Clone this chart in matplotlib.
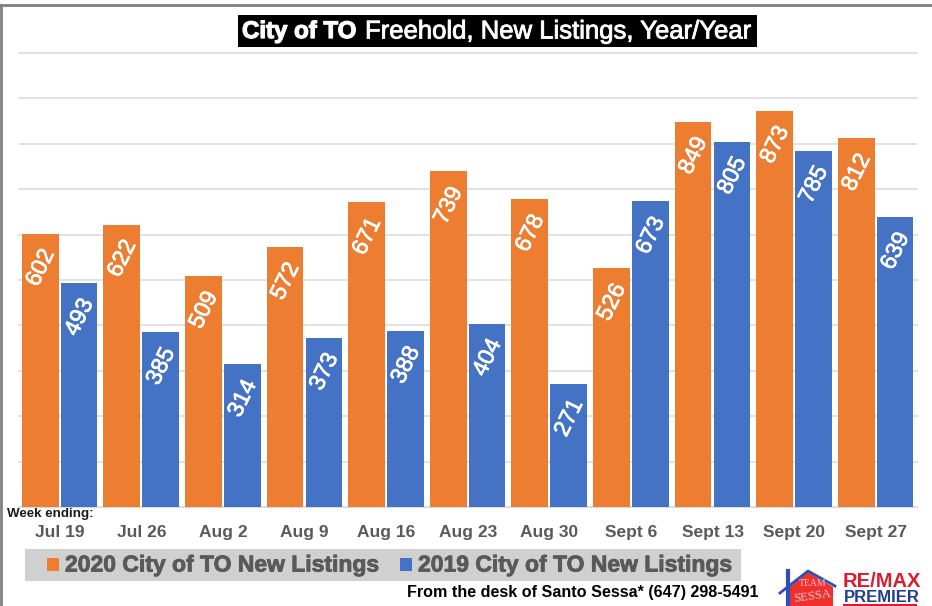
import matplotlib
matplotlib.use('Agg')
import numpy as np
from matplotlib import pyplot as plt
from matplotlib.patches import Polygon, Rectangle
import matplotlib.patheffects as pe

# Datos
semanas = ['Jul 19', 'Jul 26', 'Aug 2', 'Aug 9', 'Aug 16', 'Aug 23', 'Aug 30',
           'Sept 6', 'Sept 13', 'Sept 20', 'Sept 27']
listados_2020 = [602, 622, 509, 572, 671, 739, 678, 526, 849, 873, 812]
listados_2019 = [493, 385, 314, 373, 388, 404, 271, 673, 805, 785, 639]
etiqueta_2020 = '2020 City of TO New Listings'
etiqueta_2019 = '2019 City of TO New Listings'

naranja = '#ED7D31'
azul = '#4472C4'
gris_texto = '#595959'

plt.rcParams['font.family'] = ['Liberation Sans', 'DejaVu Sans']

W, H = 932, 606
fig = plt.figure(figsize=(W / 100, H / 100), dpi=100)


# Pasar de pixeles de la imagen a coordenadas de la figura
def fx(px):
    return px / W


def fy(py):
    return 1 - py / H


ax = fig.add_axes([fx(19), fy(507), 897.6 / W, 454 / H])
x = np.arange(len(semanas))
ancho = 0.45
ax.bar(x - 0.24, listados_2020, ancho, color=naranja, zorder=3)
ax.bar(x + 0.237, listados_2019, ancho, color=azul, zorder=3)
ax.set_xlim(-0.5, len(semanas) - 0.5)
ax.set_ylim(0, 1000)
ax.set_yticks(np.arange(0, 1001, 100))
ax.tick_params(left=False, bottom=False, labelleft=False, labelbottom=False)
ax.grid(axis='y', color='#DDDDDD', lw=1.2, zorder=0, clip_on=False)
for lado in ax.spines.values():
    lado.set_visible(False)
ax.spines['bottom'].set_visible(True)
ax.spines['bottom'].set_color('#D9D9D9')

# Etiquetas de las barras
grueso = [pe.withStroke(linewidth=0.5, foreground='white')]
for i in range(len(semanas)):
    ax.text(x[i] - 0.24, listados_2020[i] - 26, str(listados_2020[i]), color='white',
            fontsize=16.5, rotation=64, ha='center', va='top', path_effects=grueso, zorder=4)
    ax.text(x[i] + 0.237, listados_2019[i] - 26, str(listados_2019[i]), color='white',
            fontsize=16.5, rotation=64, ha='center', va='top', path_effects=grueso, zorder=4)
    ax.text(x[i], -57, semanas[i], color=gris_texto, fontsize=12.5, ha='center',
            va='center', fontweight='bold')

fig.text(fx(7), fy(514), 'Week ending:', fontsize=9.6, fontweight='bold', color='#1a1a1a',
         ha='left', va='center')

# Marco
fig.add_artist(plt.Line2D([0, 1], [fy(4.5), fy(4.5)], color='#808080', lw=2))
fig.add_artist(plt.Line2D([fx(1), fx(1)], [0, fy(4.5)], color='#808080', lw=2))

# Titulo
fig.add_artist(Rectangle((fx(238), fy(47)), 519 / W, 32 / H, color='black', lw=0))
fig.text(fx(242), fy(31.5), 'City of TO', fontsize=17.3, fontweight='bold', color='white',
         ha='left', va='center', path_effects=[pe.withStroke(linewidth=0.9, foreground='white')])
fig.text(fx(365), fy(31.5), 'Freehold, New Listings, Year/Year', fontsize=18.5, color='white',
         ha='left', va='center', path_effects=[pe.withStroke(linewidth=0.6, foreground='white')])

# Leyenda
borde_gris = [pe.withStroke(linewidth=0.6, foreground=gris_texto)]
fig.add_artist(Rectangle((fx(25), fy(581)), 716 / W, 32 / H, color='#D0D0D0', lw=0))
fig.add_artist(Rectangle((fx(47), fy(571)), 12 / W, 13 / H, color=naranja, lw=0))
fig.add_artist(Rectangle((fx(400), fy(571)), 12 / W, 13 / H, color=azul, lw=0))
fig.text(fx(65), fy(565), etiqueta_2020, fontsize=16.5, fontweight='bold', color=gris_texto,
         ha='left', va='center', path_effects=borde_gris)
fig.text(fx(418), fy(565), etiqueta_2019, fontsize=16.5, fontweight='bold', color=gris_texto,
         ha='left', va='center', path_effects=borde_gris)

# Pie
fig.text(fx(407), fy(593), 'From the desk of Santo Sessa* (647) 298-5491', fontsize=11.65,
         fontweight='bold', color='black', ha='left', va='center')

# Logos
fig.add_artist(Polygon([(fx(789), fy(606)), (fx(789), fy(586)), (fx(808), fy(572)),
                        (fx(833), fy(587)), (fx(833), fy(606))], closed=True,
                       color='#F0302C', lw=0))
fig.add_artist(plt.Line2D([fx(780), fx(808), fx(835)], [fy(593), fy(571), fy(586)],
                          color='#2E4FB5', lw=2))
fig.add_artist(plt.Line2D([fx(788), fx(788)], [fy(571), fy(606)], color='#2E4FB5', lw=3))
fig.text(fx(813), fy(584), 'TEAM', fontsize=7, family='Liberation Serif', color='#F5C8C8',
         ha='center', va='center')
fig.text(fx(812), fy(596), 'SESSA', fontsize=9, family='Liberation Serif', color='#F5C8C8',
         ha='center', va='center', rotation=8)
fig.text(fx(881.5), fy(581.5), 'RE/MAX', fontsize=14.5, fontweight='bold', color='#DC1C2E',
         ha='center', va='center')
fig.text(fx(882), fy(597), 'PREMIER', fontsize=12, fontweight='bold', color='#1F3E8F',
         ha='center', va='center')
fig.add_artist(Rectangle((fx(843), fy(606)), 74 / W, 2.5 / H, color='#DC1C2E', lw=0))

fig.savefig('out.png', dpi=100)
